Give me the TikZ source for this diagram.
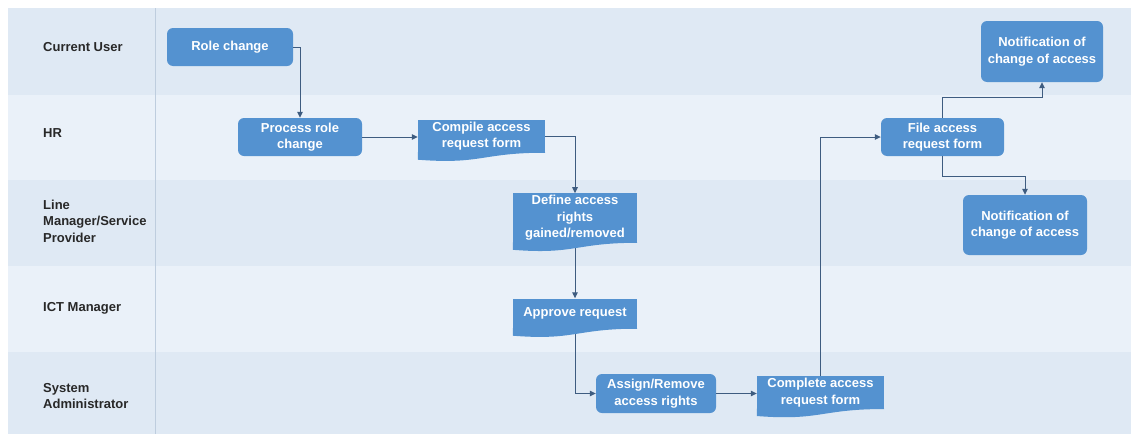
\documentclass[tikz,border=0pt]{standalone}
\usepackage{fontspec}
\setmainfont{Liberation Sans}
\usetikzlibrary{arrows.meta}
\definecolor{lanedark}{RGB}{223,233,244}
\definecolor{lanelight}{RGB}{234,241,249}
\definecolor{boxfill}{RGB}{84,146,208}
\definecolor{linkcol}{RGB}{62,92,128}
\definecolor{labelgray}{RGB}{40,40,40}
\definecolor{divider}{RGB}{190,205,222}
\newcommand{\docwave}[1]{\fill[boxfill] ([yshift=0.5pt]#1.south east) -- (#1.south east) .. controls (#1.south) and ([yshift=-12pt]#1.south) .. ([yshift=-7pt]#1.south west) -- ([yshift=0.5pt]#1.south west) -- cycle;}

\begin{document}
\begin{tikzpicture}[x=1pt,y=-1pt]
				\tikzstyle{stepround}=[rectangle, rounded corners=6pt, fill=boxfill, text=white, font=\bfseries\fontsize{13}{16.5}\selectfont, align=center, inner sep=2pt]
				\tikzstyle{stepdoc}=[rectangle, fill=boxfill, text=white, font=\bfseries\fontsize{13}{16.5}\selectfont, align=center, inner sep=2pt]
				\tikzstyle{lanelabel}=[anchor=west, align=left, inner sep=0pt, text=labelgray, font=\bfseries\fontsize{13}{16.5}\selectfont]
				\tikzstyle{link}=[draw=linkcol, line width=1pt, -{Triangle[length=6pt,width=5.5pt]}]
				\useasboundingbox (0,0) rectangle (1131,434);
				\fill[lanedark] (8,8) rectangle (1131,95);
				\fill[lanelight] (8,95) rectangle (1131,180);
				\fill[lanedark] (8,180) rectangle (1131,266);
				\fill[lanelight] (8,266) rectangle (1131,352);
				\fill[lanedark] (8,352) rectangle (1131,434);
				\draw[divider, line width=0.8pt] (155,8) -- (155,434);
				\node[lanelabel] (user) at (43,47) {Current User};
				\node[lanelabel] (hr) at (43,133) {HR};
				\node[lanelabel] (linemgr) at (43,221) {Line\\Manager/Service\\Provider};
				\node[lanelabel] (ictmgr) at (43,308) {ICT Manager};
				\node[lanelabel] (sysadmin) at (43,396) {System\\Administrator};
				\node[stepround, minimum width=126pt, minimum height=38pt] (role) at (230,47) {Role change};
				\node[stepround, minimum width=124pt, minimum height=38pt] (process) at (300,137) {Process role\\change};
				\node[stepdoc, minimum width=127pt, minimum height=33pt] (compile) at (481.5,136) {Compile access\\request form};
				\node[stepdoc, minimum width=124pt, minimum height=49pt] (define) at (575,218) {Define access\\rights\\gained/removed};
				\node[stepdoc, minimum width=124pt, minimum height=30pt] (approve) at (575,313.5) {Approve request};
				\node[stepround, minimum width=120pt, minimum height=39pt] (assign) at (656,393.5) {Assign/Remove\\access rights};
				\node[stepdoc, minimum width=127pt, minimum height=30pt] (complete) at (820.5,392.5) {Complete access\\request form};
				\node[stepround, minimum width=123pt, minimum height=38pt] (file) at (942.5,137) {File access\\request form};
				\node[stepround, minimum width=122pt, minimum height=61pt] (notifyup) at (1042,51.5) {Notification of\\change of access};
				\node[stepround, minimum width=124pt, minimum height=60pt] (notifydown) at (1025,225) {Notification of\\change of access};
				\draw[link] (role.east) -| (process.north);
				\draw[link] (process.east) -- (process.east -| compile.west);
				\draw[link] (compile.east) -| (define.north);
				\draw[link] (define.south) -- (approve.north);
				\draw[link] (approve.south) |- (assign.west);
				\draw[link] (assign.east) -- (assign.east -| complete.west);
				\draw[link] (complete.north) |- (file.west);
				\draw[link] (file.north) -- ++(0,-20) -| (notifyup.south);
				\draw[link] (file.south) -- ++(0,20) -| (notifydown.north);
				\docwave{compile}
				\docwave{define}
				\docwave{approve}
				\docwave{complete}
			\end{tikzpicture}
\end{document}
